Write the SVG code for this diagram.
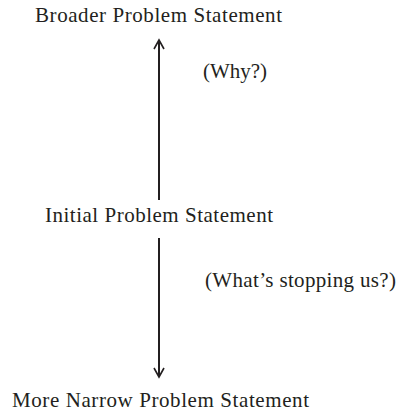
<svg xmlns="http://www.w3.org/2000/svg" width="399" height="415" viewBox="0 0 399 415">
  <style>
    .lbl { font-family: "Liberation Serif", "Times New Roman", serif; font-size: 21px; fill: #231f20; }
    .conn { stroke: #231f20; stroke-width: 2; fill: none; }
    .head { stroke: #231f20; stroke-width: 1.6; fill: none; }
  </style>
  <rect width="399" height="415" fill="#ffffff"/>
  <g id="broader">
    <text class="lbl" x="35" y="22" textLength="247">Broader Problem Statement</text>
  </g>
  <g id="initial">
    <text class="lbl" x="45" y="222" textLength="228">Initial Problem Statement</text>
  </g>
  <g id="narrow">
    <text class="lbl" x="12" y="407" textLength="297">More Narrow Problem Statement</text>
  </g>
  <g id="connectors">
    <line class="conn" x1="159" y1="200" x2="159" y2="41"/>
    <polyline class="head" points="154,49 159,40 164,49"/>
    <line class="conn" x1="159" y1="238" x2="159" y2="376"/>
    <polyline class="head" points="154,368 159,377 164,368"/>
    <text class="lbl" x="203" y="78" textLength="64">(Why?)</text>
    <text class="lbl" x="205" y="287" textLength="191">(What’s stopping us?)</text>
  </g>
</svg>
